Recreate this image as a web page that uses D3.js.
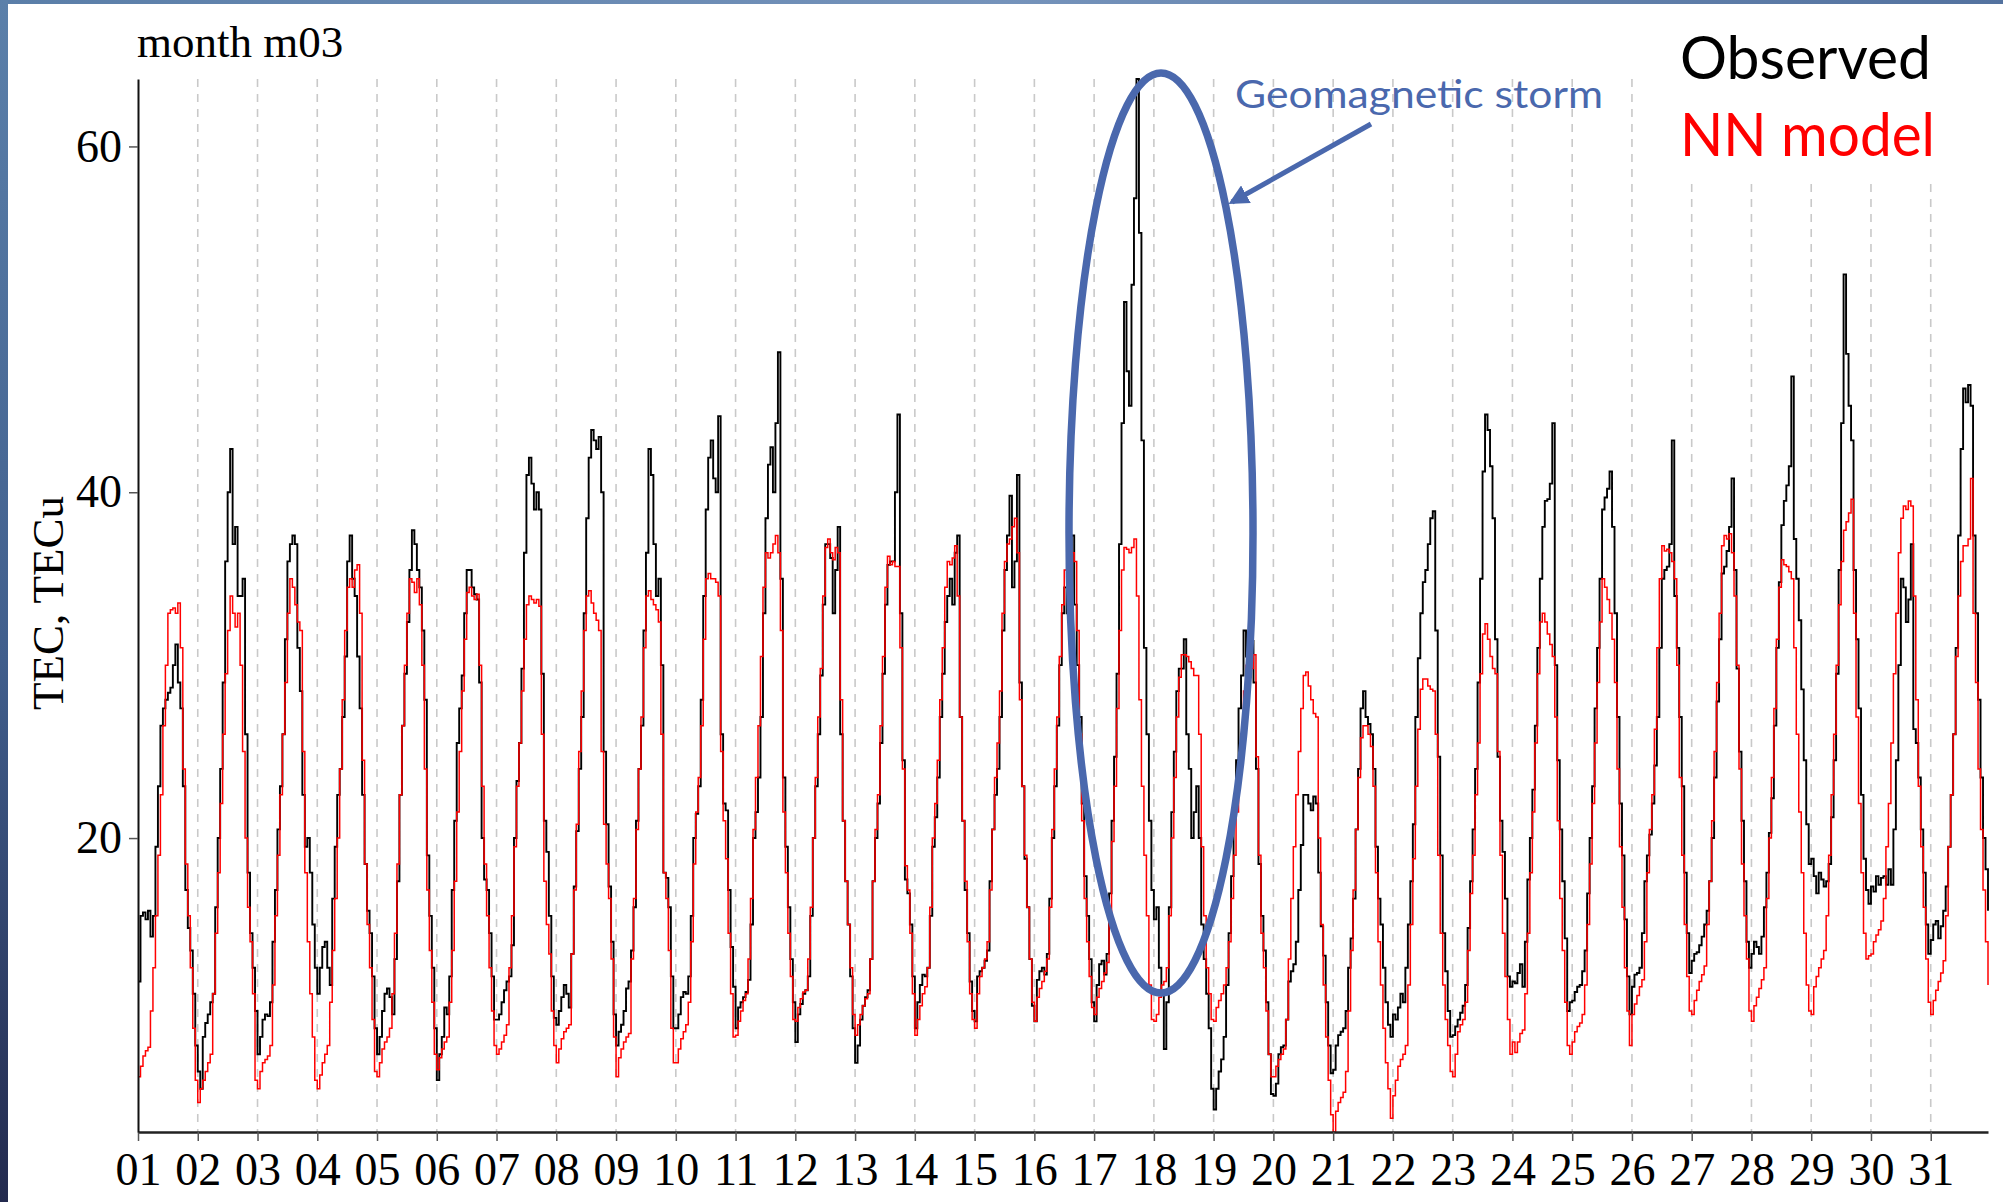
<!DOCTYPE html>
<html><head><meta charset="utf-8">
<script src="https://cdn.jsdelivr.net/npm/d3@7"></script>
<style>html,body{margin:0;padding:0;background:#fff;overflow:hidden}</style>
</head><body>
<svg id="chart" width="2003" height="1202"></svg>
<script>
// ---- data ----
const dayLabels = ["01","02","03","04","05","06","07","08","09","10","11","12","13","14","15","16","17","18","19","20","21","22","23","24","25","26","27","28","29","30","31"];
const yTicks = [20, 40, 60];
const titleText = "month m03";
const yTitle = "TEC, TECu";
const seriesNames = ["Observed", "NN model"];
const annotationText = "Geomagnetic storm";

// hourly TEC values, one array of 24 per day
const observed = [
[11.7,15.5,15.7,15.3,15.8,14.3,15.5,19.5,23,26.5,27.5,28,28.4,28.7,30,31.2,29,27.5,23,17,14.8,13.5,11,8],
[6.5,5.5,8.5,9.3,9.8,10.5,11,16,20,24,29,36,40,42.5,37,38,34,34,35,26,18,14.5,12.5,10],
[7.5,8.5,9.5,9.8,9.7,10.5,14,17,20.5,23,26,31.5,36,37,37.5,37,31,28.5,22.5,19.5,20,18,15,12.5],
[11,12.5,13.7,14,12.5,11.5,16.5,19.5,22.5,24,27,30.5,36,37.5,35,34,30.5,27.5,22.5,18.5,15.8,14.5,12,9],
[7.5,8.5,10,11,11.3,10.8,9.8,13,17.5,22.5,26.5,29.5,32.5,35.5,37.8,37,35.5,34.5,32,28,19,15.5,12.5,9],
[6,7.5,8.5,10.2,9.8,12,17,21,25.5,27.5,29.4,33,35.5,35.5,34.5,34.1,33.8,29,20,17.6,17,14.5,12,9.5],
[9.5,9.8,10.5,11.2,11.7,12,13.8,20,23.3,25.5,29.8,36.5,41,42,40.5,39,40,39,29.5,21,19.2,15.5,12,9.6],
[9.2,10,10.8,11.5,11,10.2,13.3,17.2,20.4,24,27,33,38.5,42,43.6,43,42.5,43.2,40,25,20.8,17.2,14,9.8],
[8,8.8,9.2,10,11.3,11.7,13.5,16,21,24,26.5,32,36.5,42.5,41,37,34,35,30,18,17.7,16,12,9],
[9,9.8,10.8,11.1,11,12,15.5,20,21.4,23,28,34,39,42,43,40.8,40,44.4,26,22,21.6,17,13.7,11.4],
[9,10.2,10.5,10.8,11.1,11.8,15,20,21.5,23.5,27,33,38.5,41.6,42.6,40,44,48.1,35,23.5,19.5,16,13,10.5],
[8.2,9.8,10.4,11,11.2,12,15.5,20,23,26,29.4,33.5,37,37,36.2,33,35.5,38,26,21,17.5,15,12,9],
[7,8,9.5,10.3,10.8,11.2,13,17.5,20,22,25.5,29.5,33.5,35.8,36,36,40,44.5,33,24.5,17.6,16.8,15,12],
[9,10.5,11.5,12.1,12,12.5,15.5,19.5,21.2,23.5,27,29.5,32.5,34,35,33.5,36.5,37.5,27,21,17,14.5,11.7,10],
[9.4,12,12.3,12.5,12.9,13.5,17.5,20.5,22.5,24,27,32,35.5,37.5,39.8,34.5,36,41,29,23,18.8,16,13,10.3],
[9.4,11.8,12.3,12.5,12.1,13.3,16.5,20,23,26.5,30,33,34.5,33,36,37.5,33.5,30,27,22,17.8,15.5,13,10.5],
[9.4,11.5,12.7,12.9,12.1,13.3,16.8,21,24.7,29.5,37,44,51,47,45,52,57,63.9,55,43,31,26,21,17],
[15.3,16,12.5,11,7.8,10.5,16,21.5,25,28.5,29.8,29.8,31.5,26,24,20,21.5,23,20,15,13,11,9,5.5],
[4.3,5.5,6.5,7.2,8.5,11.5,14.5,17.8,21.6,24.5,27.5,29.4,32,30.5,31.5,31.4,29,24,18.5,15.5,13.5,10.5,7.5,5.2],
[5.1,5.8,7.5,7.9,8,9.5,11.7,12.3,12.7,14,17,19.6,22.5,22.5,22,21.6,22.4,22,18,14.9,13.2,10.5,8,6.4],
[6.6,8,8.6,8.8,9,10,12.5,14.2,16.5,20.5,24,27.5,28.5,27,26.6,26,24,19.5,16.5,15,12.5,10.5,9.2,8.5],
[9.8,9.5,10.2,11,10.5,12.5,15,17.5,20.8,27,30.4,33,34.8,35.5,37,38.5,38.9,32,24.7,19,14.5,12.3,10,8.5],
[8.6,9.1,9.5,9.9,10.3,11.5,14.8,17.5,20.5,24,29,35,41.2,44.5,43.6,41.5,38.5,31.5,24.7,21,19.2,16.5,12,11.4],
[11.7,11.6,12.2,12.7,11.4,14,17.6,20,22.8,26.5,31,35,38,39.5,39.6,40.5,44,30,24.5,20.5,17.5,14.2,10,10.5],
[10.6,11.1,11.4,11.5,12.3,13.5,16.8,20,23,27.5,31,35,39,39.7,40.2,41.2,38,33,27,22,19,15.3,12,9.8],
[11.4,12.1,12.2,12.5,14.5,17.5,19,20.2,22,24.2,27,31,35,35.5,35.7,37,43,34,31,27,23,18,14.5,12.2],
[12.9,13.3,13.4,13.8,14.3,15,15.8,17.5,20,23.5,27.9,31.5,35.3,35.7,36.6,38,40.8,35.5,29.8,25,21,17.5,14,12.5],
[13.3,14,13.7,13.3,14.3,16,18,20.3,22.3,26.5,31,34.8,38.1,39.5,40.4,41.5,46.7,37.3,35,32.6,28.6,24.5,20.8,18.5],
[18.8,17.8,16.8,18,17.6,17.2,17.5,18.5,21.2,24.5,29.5,35.5,44,52.6,48,45,43,35.5,31.5,27.5,22.5,18.8,17,16.2],
[17.2,16.9,17.8,17.3,17.7,17.8,17.3,18.2,17.3,20.5,24.5,30,35,34.5,32.5,33.8,37,26.3,25.5,23.5,20.5,18,15,13.3],
[14.1,15,15.2,14.2,14.9,15.8,17.2,19.5,22.5,26,31,37.5,42.5,46,45.2,46.2,45,37.5,33,28,23.5,20,18.2,15.8]
];
const model = [
[6.2,6.8,7.4,7.7,7.9,10,12.5,15.5,19,22.5,26.5,30,33,33.2,33.3,33,33.6,31,24,18.5,15.5,12.5,9,6],
[4.7,5.5,6,6.5,7,7.5,11,14.5,18,22,26,29.5,32,34,33,32.2,33,30,25,20,16,14,11,6],
[5.5,6.5,7,7.2,7.4,8,11.5,15.5,19,22.5,26,29,33,35,34.5,33.5,32.5,32,25,18,14,11,8.5,6],
[5.5,6.3,7,7.5,8,10.5,13.5,16.5,20,24,28,32,34.5,35,34.5,35.5,35.8,33,24.5,18.5,15,12.5,9.5,6.5],
[6.2,7,7.8,8.2,8.5,9,11,14.5,18.5,22.5,26.5,30,33,35,34.8,34.2,35,33.5,30,24,17,13.5,10.5,7.5],
[6.6,7.3,7.8,8.2,8.5,10.5,13.5,17.5,21.5,25,28.5,31.5,34.2,34.5,34,33.8,34.1,30,23,18.5,15.5,12.5,10,8],
[7.5,7.8,8.2,8.6,9.2,12.5,15.5,19.5,23,25.5,28.5,31.5,33.5,34,33.8,33.6,33.8,33.4,26,17.5,15,13.3,10,8],
[7,7.8,8.4,8.8,9,9.2,13.3,17,20.8,25,28.5,32,34,34.3,33.6,33,32.6,32,25,20.8,18.5,16.5,13,8.5],
[6.2,7.3,7.8,8.2,8.5,8.7,13,16.5,20.5,24,27,31,34,34.3,33.8,33.5,33.2,32.5,26,18,16.5,13.5,9,7],
[7,7.8,8.4,8.8,9.2,10.5,14,18.5,21.5,23.5,26.5,31.5,35,35.3,35,35,34.8,34,25,21,18.8,14.5,11,8.5],
[8.6,9.4,10,10.6,11,13,16.5,20.5,23.5,26.5,30.5,34.5,36.5,36.2,36.5,37,37.5,36.5,32,21.5,18,14.5,12,9.5],
[9.4,10.2,10.7,11.1,11.2,13,16,20,23.5,27,29.8,34,36.8,37.3,36.5,36.1,36.8,36.5,28,21,17.5,15,12.5,9.8],
[8.6,9.2,9.8,10.3,10.7,11,13,17.5,20.5,22.5,26.5,30.5,34.5,36.3,35.8,36,35.7,35.7,31,24,18.4,17,14.5,11],
[8.6,9.5,10.3,11,11.4,12.5,16,20,22,24.5,28,31,34.5,36,35.8,36.2,36.9,34,27,21,17.5,14,11,9.5],
[9,11,12,12.5,13,14,17,20.5,23.5,25.5,28.5,33,36,37,37.3,38,38.5,36.5,28,23,19,16,13,10.5],
[9.4,10.8,11.3,11.7,12.3,13,16,20.5,24,27,30.5,33.5,35.5,36.8,36.7,36.5,36,32,26,21,16.5,14,12,10.2],
[9.8,10.8,11.3,11.7,12.2,12.8,15.7,19.8,23,27.5,32,35.5,36.8,36.7,36.5,36.8,37.3,34,28,23,19,15.5,11.5,9.5],
[9.4,9.8,10.8,11.5,11.7,12.5,15.5,20,23.5,27,29.3,30.6,30.6,30.5,30.2,29.8,29.4,29.4,26,19.5,15.5,12.5,11,9.5],
[9.4,10.2,10.6,11,11.5,12.5,14,16.5,19,21.5,24,26,28.5,30,29.5,29.8,30.6,24.7,19,14.5,12.5,10,7.5,6.2],
[6.2,6.8,7.2,7.5,7.8,9.5,13,16.5,19.5,22.5,25,27.5,29.4,29.6,28.8,28,27.2,27,20,15,11.5,8.5,6,4],
[3.0,4.2,4.7,5,5.3,6.5,10,13.5,17,20.5,23.5,25.8,26.5,26.5,26,25.3,23,18,14,11.5,9,7,5.5,3.8],
[5.1,6,6.8,7.2,7.5,8,11.5,15,18.8,23,26.3,28.6,29.2,29.2,28.8,28.6,28.5,26,19,14.5,11.5,9.5,8,6.5],
[6.2,7.5,8.8,9.2,9.5,10.5,13.5,16.8,19,22.5,25.5,29.5,31.8,32.4,31.5,30.5,29.8,29.5,25,19,14.5,12,9.5,7.5],
[8.2,7.6,8.2,8.7,8.9,11,14.5,18,21.5,25.5,29.5,32.5,33,32.5,31.8,31.2,30.5,27,21,16.5,13.5,10.5,8,7.5],
[8.2,8.8,9.1,9.3,9.8,11.5,15,18.5,22,25.5,29,32.5,35,34.5,33.8,33,31.5,29,24,19.5,16,12.5,10,8],
[9.8,10.4,10.9,11.4,11.8,14,18,20.5,22.5,26.3,31,35,36.9,36.6,36.7,36.5,36,35,30,23.5,19,15,12,10],
[9.8,10.6,11.2,11.7,12.1,12.6,15,17.5,21,25,29,33,36.9,37.5,37.3,37.6,36.5,34,30,24,18.5,15.5,13,10],
[9.4,10.3,10.8,11.3,11.8,12.5,16.5,20,23.5,27.5,31.5,34.5,36.1,35.8,35.7,35.4,35,31,26,21.5,18,14.5,11.5,10],
[9.8,11.4,12,12.5,13,13.5,15.5,19,22.5,26,30,33.5,36,37.8,38.3,38.8,39.6,33,27,22,18,14.5,13,13.2],
[13.3,14,14.4,14.7,15.2,16.5,19.5,22,25.5,29.5,33,36.5,38.5,39.2,39,39.5,39.2,34,28,23,19.5,16,13,10.5],
[9.8,10.6,11.2,11.7,12.2,12.9,15.5,19.5,22.5,26,30.5,34,36,36.9,36.9,37.3,40.8,33,29,24,20.5,17,14,11.5]
];

// ---- build ----
const obsFlat = observed.flat().map((v, i) => ({h: i, v}));
const modFlat = model.flat().map((v, i) => ({h: i, v}));
const nHours = obsFlat.length;

const svg = d3.select("#chart");
const W = 2003, H = 1202;
const plot = {left: 138, right: 1988, top: 79, bottom: 1132};

// slide border
const defs = svg.append("defs");
const gl = defs.append("linearGradient").attr("id", "gl").attr("x1", 0).attr("y1", 0).attr("x2", 0).attr("y2", 1);
gl.append("stop").attr("offset", "0%").attr("stop-color", "#5b80aa");
gl.append("stop").attr("offset", "55%").attr("stop-color", "#405e8c");
gl.append("stop").attr("offset", "100%").attr("stop-color", "#232a4e");
const gt = defs.append("linearGradient").attr("id", "gt").attr("x1", 0).attr("y1", 0).attr("x2", 1).attr("y2", 0);
gt.append("stop").attr("offset", "0%").attr("stop-color", "#5a7ea8");
gt.append("stop").attr("offset", "50%").attr("stop-color", "#7593bb");
gt.append("stop").attr("offset", "100%").attr("stop-color", "#53729f");
svg.append("rect").attr("x", 0).attr("y", 0).attr("width", W).attr("height", H).attr("fill", "#fff");
svg.append("rect").attr("x", 0).attr("y", 0).attr("width", W).attr("height", 4).attr("fill", "url(#gt)");
svg.append("rect").attr("x", 0).attr("y", 0).attr("width", 8).attr("height", H).attr("fill", "url(#gl)");

const x = d3.scaleLinear().domain([0, nHours - 1]).range([plot.left, plot.right]);
const allV = obsFlat.map(d => d.v).concat(modFlat.map(d => d.v));
const y = d3.scaleLinear().domain(d3.extent(allV)).range([plot.bottom, plot.top]);

// grid (day boundaries)
const dayStarts = dayLabels.map((d, i) => i * 24);
svg.append("g").selectAll("line").data(dayStarts.slice(1)).join("line")
  .attr("x1", d => x(d)).attr("x2", d => x(d))
  .attr("y1", plot.top).attr("y2", plot.bottom)
  .attr("stroke", "#c9c9c9").attr("stroke-width", 1.6).attr("stroke-dasharray", "8,7");

// lines
const line = d3.line().x(d => x(d.h)).y(d => y(d.v)).curve(d3.curveStepAfter);
svg.append("path").datum(obsFlat).attr("d", line).attr("fill", "none").attr("stroke", "#000").attr("stroke-width", 1.9);
svg.append("path").datum(modFlat).attr("d", line).attr("fill", "none").attr("stroke", "#ff0000").attr("stroke-width", 1.5);

// axes
const serif = "Liberation Serif, Times New Roman, serif";
const xAxis = d3.axisBottom(x).tickValues(dayStarts).tickFormat((d, i) => dayLabels[i]).tickSize(9).tickSizeOuter(0);
const gx = svg.append("g").attr("transform", `translate(0,${plot.bottom})`).call(xAxis);
gx.select(".domain").attr("stroke", "#222").attr("stroke-width", 2.5);
gx.selectAll(".tick line").attr("stroke", "#555").attr("stroke-width", 1.5);
gx.selectAll(".tick text").attr("font-family", serif).attr("font-size", 46).attr("fill", "#000").attr("dy", "0.71em").attr("y", 20);

const yAxis = d3.axisLeft(y).tickValues(yTicks).tickSize(9).tickSizeOuter(0);
const gy = svg.append("g").attr("transform", `translate(${plot.left},0)`).call(yAxis);
gy.select(".domain").attr("stroke", "#111").attr("stroke-width", 2);
gy.selectAll(".tick line").attr("stroke", "#555").attr("stroke-width", 1.5);
gy.selectAll(".tick text").attr("font-family", serif).attr("font-size", 46).attr("fill", "#000").attr("x", -16);

// y title
svg.append("text").attr("transform", "translate(63,603) rotate(-90)").attr("text-anchor", "middle")
  .attr("font-family", serif).attr("font-size", 45).attr("fill", "#000").text(yTitle);
// title
svg.append("text").attr("x", 137).attr("y", 57).attr("font-family", serif)
  .attr("font-size", 45).attr("fill", "#000").text(titleText);

// legend box + text
svg.append("rect").attr("x", 1662).attr("y", 6).attr("width", W - 1662).attr("height", 172).attr("fill", "#fff");
const sans = "Lato, Open Sans, sans-serif";
svg.append("text").attr("x", 1680).attr("y", 79).attr("font-family", sans).attr("font-size", 60)
  .attr("fill", "#000").attr("textLength", 251).attr("lengthAdjust", "spacingAndGlyphs").text(seriesNames[0]);
svg.append("text").attr("x", 1680).attr("y", 156).attr("font-family", sans).attr("font-size", 60)
  .attr("fill", "#ff0000").attr("textLength", 255).attr("lengthAdjust", "spacingAndGlyphs").text(seriesNames[1]);

// annotation
const blue = "#4a68ad";
svg.append("text").attr("x", 1235).attr("y", 108).attr("font-family", sans).attr("font-size", 39)
  .attr("fill", blue).attr("textLength", 368).attr("lengthAdjust", "spacingAndGlyphs").text(annotationText);
svg.append("ellipse").attr("cx", 1161).attr("cy", 533).attr("rx", 92).attr("ry", 460)
  .attr("fill", "none").attr("stroke", blue).attr("stroke-width", 7.5);
defs.append("marker").attr("id", "arr").attr("viewBox", "0 0 10 10").attr("refX", 8).attr("refY", 5)
  .attr("markerWidth", 4).attr("markerHeight", 4).attr("orient", "auto")
  .append("path").attr("d", "M0,0 L10,5 L0,10 z").attr("fill", blue);
svg.append("line").attr("x1", 1371).attr("y1", 124).attr("x2", 1232).attr("y2", 202)
  .attr("stroke", blue).attr("stroke-width", 5).attr("marker-end", "url(#arr)");
</script>
</body></html>
